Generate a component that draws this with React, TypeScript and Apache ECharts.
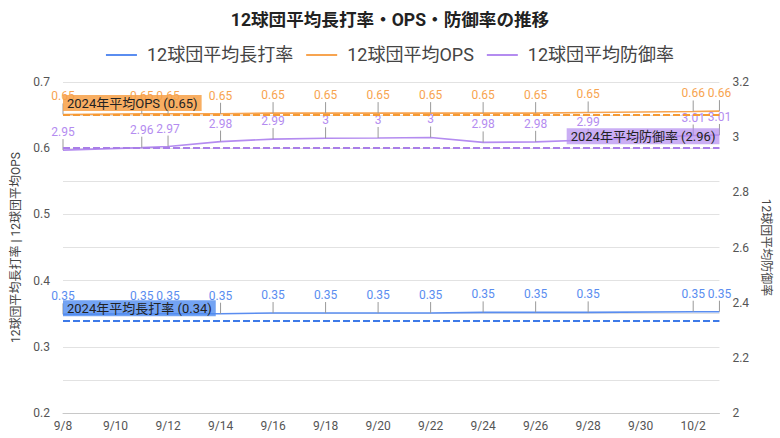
import React, { useEffect, useRef } from "react";
import * as echarts from "echarts";

const dates = [
  "2024-09-08", "2024-09-11", "2024-09-12", "2024-09-14", "2024-09-16", "2024-09-18",
  "2024-09-20", "2024-09-22", "2024-09-24", "2024-09-26", "2024-09-28", "2024-10-02", "2024-10-03",
];
const slg = [0.349, 0.35, 0.35, 0.35, 0.351, 0.351, 0.351, 0.351, 0.352, 0.352, 0.352, 0.353, 0.353];
const ops = [0.651, 0.652, 0.652, 0.652, 0.653, 0.653, 0.653, 0.653, 0.653, 0.653, 0.654, 0.6555, 0.656];
const era = [2.953, 2.962, 2.966, 2.984, 2.993, 2.996, 2.997, 2.999, 2.981, 2.983, 2.99, 3.006, 3.008];
const seriesNames = ["12球団平均長打率", "12球団平均OPS", "12球団平均防御率"];
const avgNames = ["長打率", "OPS", "防御率"];
const averages = [0.344, 0.647, 2.96];
const startDate = "2024-09-08";
const endDate = "2024-10-03";

const FONT = 'Roboto, "Noto Sans CJK JP", sans-serif';
const COLORS = ["#5a8df0", "#f7a450", "#b48cf0"];
const DASH = ["#3d7ae8", "#f59a35", "#a97ee8"];
const BOX = ["rgba(80,140,240,0.8)", "rgba(247,160,70,0.85)", "rgba(180,140,240,0.7)"];
const DAY = 86400000;

const t0 = Date.parse(startDate + "T00:00:00Z");
const toOffset = (d: string) => Math.round((Date.parse(d + "T00:00:00Z") - t0) / DAY);
const maxOffset = toOffset(endDate);
const fmt = (v: number) => String(Number(v.toFixed(2)));

export default function App() {
  const ref = useRef<HTMLDivElement>(null);
  useEffect(() => {
    document.body.style.margin = "0";
    const chart = echarts.init(ref.current!, null, { renderer: "svg" });
    const values = [slg, ops, era];
    const lineSeries = values.map((vals, i) => ({
      name: seriesNames[i],
      type: "line",
      yAxisIndex: i === 2 ? 1 : 0,
      data: vals.map((v, j) => [toOffset(dates[j]), v]),
      showSymbol: false,
      symbol: "none",
      lineStyle: { color: COLORS[i], width: 1.6 },
      itemStyle: { color: COLORS[i] },
      z: 2,
      markLine: {
        silent: true,
        symbol: ["none", "none"],
        lineStyle: { color: DASH[i], type: [7, 3], width: 2 },
        data: [{ yAxis: averages[i] }],
        label: {
          show: true,
          position: i === 2 ? "insideEndTop" : "insideStartTop",
          distance: [0, 4],
          formatter: () => `2024年平均${avgNames[i]} (${averages[i].toFixed(2)})`,
          color: "#222",
          fontSize: 13,
          fontFamily: FONT,
          backgroundColor: BOX[i],
          padding: [2, 4, 1, 4],
        },
        z: 4,
      },
    }));
    const annSeries = values.map((vals, i) => ({
      name: "ann" + i,
      type: "custom",
      yAxisIndex: i === 2 ? 1 : 0,
      data: vals.map((v, j) => [toOffset(dates[j]), v]),
      z: 3,
      silent: true,
      renderItem: (params: any, api: any) => {
        const p = api.coord([api.value(0), api.value(1)]);
        return {
          type: "group",
          children: [
            {
              type: "line",
              shape: { x1: p[0], y1: p[1], x2: p[0], y2: p[1] - 11 },
              style: { stroke: "#999", lineWidth: 1 },
            },
            {
              type: "text",
              x: p[0],
              y: p[1] - 12,
              style: {
                text: fmt(api.value(1)),
                fill: COLORS[i],
                font: `12px ${FONT}`,
                align: "center",
                verticalAlign: "bottom",
              },
            },
          ],
        };
      },
    }));
    chart.setOption({
      animation: false,
      textStyle: { fontFamily: FONT },
      title: {
        text: "12球団平均長打率・OPS・防御率の推移",
        left: "center",
        top: 6,
        textStyle: { fontSize: 17.6, fontWeight: "bold", color: "#222", fontFamily: FONT },
      },
      legend: {
        data: seriesNames,
        top: 41,
        left: "center",
        icon: "rect",
        itemWidth: 31,
        itemHeight: 2,
        itemGap: 13,
        textStyle: { fontSize: 18, color: "#444", fontFamily: FONT, padding: [0, 0, 0, 5] },
      },
      grid: { left: 63, right: 58, top: 82, bottom: 25, containLabel: false },
      xAxis: {
        type: "value",
        min: 0,
        max: maxOffset,
        interval: 2,
        axisLine: { show: true, lineStyle: { color: "#c8c8c8" } },
        axisTick: { show: false },
        splitLine: { show: false },
        axisLabel: {
          color: "#555",
          fontSize: 12,
          margin: 7,
          showMaxLabel: false,
          formatter: (v: number) => {
            const d = new Date(t0 + v * DAY);
            return `${d.getUTCMonth() + 1}/${d.getUTCDate()}`;
          },
        },
      },
      yAxis: [
        {
          type: "value",
          min: 0.2,
          max: 0.7,
          interval: 0.05,
          name: "12球団平均長打率 | 12球団平均OPS",
          nameLocation: "middle",
          nameRotate: 90,
          nameGap: 33,
          nameTextStyle: { color: "#444", fontSize: 12, fontFamily: FONT },
          axisLine: { show: false },
          axisTick: { show: false },
          splitLine: { lineStyle: { color: "#e2e2e2" } },
          axisLabel: {
            color: "#555",
            fontSize: 12,
            margin: 13,
            formatter: (v: number) => (Math.round(v * 100) % 10 === 0 ? String(Number(v.toFixed(2))) : ""),
          },
        },
        {
          type: "value",
          min: 2,
          max: 3.2,
          interval: 0.2,
          position: "right",
          name: "12球団平均防御率",
          nameLocation: "middle",
          nameRotate: -90,
          nameGap: 31,
          nameTextStyle: { color: "#444", fontSize: 12, fontFamily: FONT },
          axisLine: { show: false },
          axisTick: { show: false },
          splitLine: { show: false },
          axisLabel: {
            color: "#555",
            fontSize: 12,
            margin: 13,
            formatter: (v: number) => String(Number(v.toFixed(1))),
          },
        },
      ],
      series: [...lineSeries, ...annSeries],
    });
    return () => chart.dispose();
  }, []);
  return <div ref={ref} style={{ position: "absolute", left: 0, top: 0, width: 780, height: 438 }} />;
}
